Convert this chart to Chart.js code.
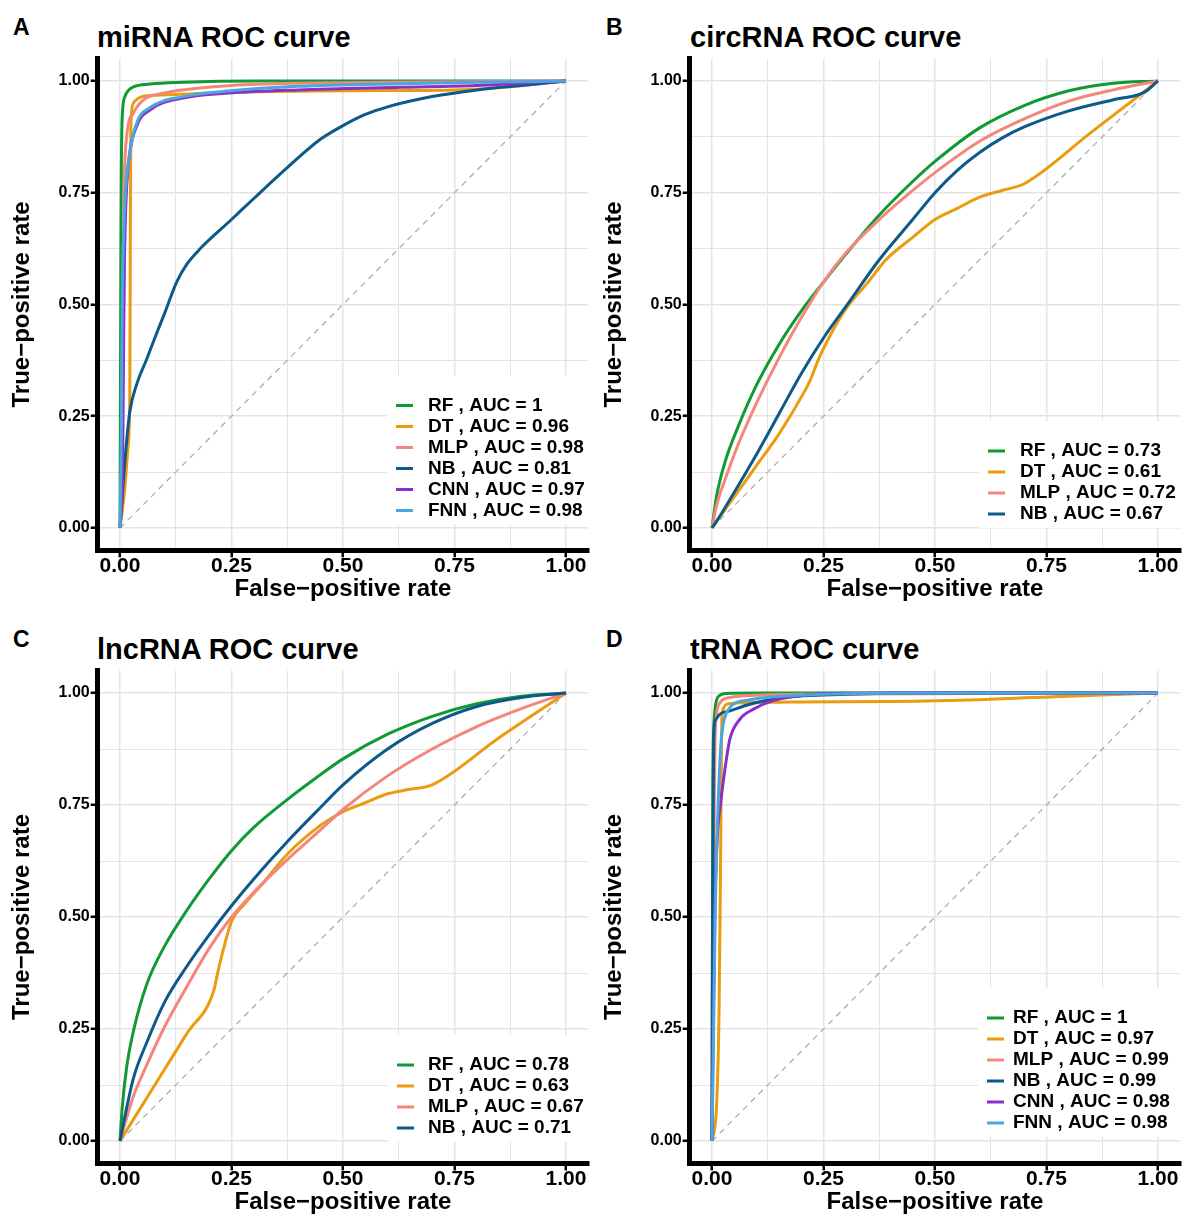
<!DOCTYPE html>
<html>
<head>
<meta charset="utf-8">
<script src="https://cdn.jsdelivr.net/npm/chart.js@4.4.1/dist/chart.umd.min.js"></script>
<style>
  body { margin: 0; width: 1184px; height: 1215px; background: #fff; position: relative; overflow: hidden;
         font-family: "Liberation Sans", Arial, sans-serif; }
  canvas { position: absolute; }
  .letter { position: absolute; font-weight: bold; font-size: 23px; line-height: 1; }
  .title { position: absolute; font-weight: bold; font-size: 29px; line-height: 1; white-space: nowrap; }
</style>
</head>
<body>
<div class="letter" style="left:13px;top:16px">A</div>
<div class="title" style="left:97px;top:23px">miRNA ROC curve</div>
<div class="letter" style="left:606px;top:16px">B</div>
<div class="title" style="left:690px;top:23px">circRNA ROC curve</div>
<div class="letter" style="left:13px;top:628px">C</div>
<div class="title" style="left:97px;top:635px">lncRNA ROC curve</div>
<div class="letter" style="left:606px;top:628px">D</div>
<div class="title" style="left:690px;top:635px">tRNA ROC curve</div>
<script>
//models, ticks
const models = ["RF", "DT", "MLP", "NB", "CNN", "FNN"];
const tickValues = [0, 0.25, 0.5, 0.75, 1];
const gridValues = [0, 0.125, 0.25, 0.375, 0.5, 0.625, 0.75, 0.875, 1];

//miRNA  [fpr, tpr]
const aucMiRNA = [1, 0.96, 0.98, 0.81, 0.97, 0.98];
const miRNA_RF = [[0,0],[0.001,0.3],[0.002,0.6],[0.003,0.8],[0.005,0.92],[0.011,0.965],[0.02,0.98],[0.03,0.987],[0.067,0.993],[0.142,0.997],[0.3,1],[1,1]];
const miRNA_DT = [[0,0],[0.01,0.08],[0.018,0.18],[0.022,0.3],[0.023,0.6],[0.024,0.85],[0.026,0.93],[0.03,0.95],[0.037,0.958],[0.052,0.966],[0.105,0.969],[0.25,0.975],[0.5,0.978],[0.75,0.98],[0.85,0.985],[1,1]];
const miRNA_MLP = [[0,0],[0.004,0.2],[0.006,0.5],[0.009,0.75],[0.015,0.876],[0.03,0.928],[0.052,0.957],[0.105,0.974],[0.18,0.984],[0.25,0.99],[0.4,0.995],[0.6,0.997],[1,1]];
const miRNA_NB = [[0,0],[0.005,0.07],[0.011,0.15],[0.022,0.26],[0.037,0.32],[0.06,0.378],[0.08,0.43],[0.1,0.48],[0.127,0.55],[0.15,0.59],[0.18,0.625],[0.25,0.69],[0.3,0.737],[0.375,0.806],[0.45,0.87],[0.5,0.9],[0.55,0.925],[0.6,0.942],[0.7,0.965],[0.8,0.98],[0.9,0.99],[1,1]];
const miRNA_CNN = [[0,0],[0.006,0.15],[0.008,0.4],[0.01,0.6],[0.013,0.72],[0.019,0.816],[0.037,0.898],[0.067,0.935],[0.142,0.962],[0.247,0.973],[0.4,0.98],[0.63,0.986],[0.8,0.99],[1,1]];
const miRNA_FNN = [[0,0],[0.003,0.2],[0.005,0.5],[0.008,0.65],[0.013,0.76],[0.022,0.838],[0.037,0.905],[0.067,0.94],[0.142,0.965],[0.247,0.978],[0.4,0.988],[0.63,0.994],[0.8,0.997],[1,1]];

//circRNA
const aucCircRNA = [0.73, 0.61, 0.72, 0.67];
const circ_RF = [[0,0],[0.01,0.07],[0.03,0.15],[0.06,0.23],[0.1,0.32],[0.15,0.41],[0.2,0.485],[0.25,0.55],[0.3,0.612],[0.375,0.7],[0.45,0.775],[0.5,0.82],[0.6,0.895],[0.7,0.945],[0.8,0.978],[0.9,0.995],[1,1]];
const circ_DT = [[0,0],[0.05,0.07],[0.1,0.14],[0.15,0.21],[0.21,0.31],[0.22,0.33],[0.24,0.38],[0.27,0.44],[0.3,0.49],[0.35,0.55],[0.39,0.6],[0.45,0.65],[0.5,0.69],[0.55,0.715],[0.6,0.74],[0.65,0.755],[0.7,0.77],[0.85,0.885],[1,1]];
const circ_MLP = [[0,0],[0.01,0.05],[0.03,0.11],[0.06,0.19],[0.1,0.28],[0.15,0.38],[0.2,0.47],[0.25,0.55],[0.3,0.615],[0.375,0.69],[0.45,0.755],[0.5,0.795],[0.6,0.865],[0.7,0.915],[0.8,0.955],[0.9,0.98],[1,1]];
const circ_NB = [[0,0],[0.02,0.03],[0.05,0.08],[0.1,0.165],[0.15,0.255],[0.2,0.345],[0.25,0.425],[0.3,0.495],[0.375,0.6],[0.45,0.69],[0.5,0.75],[0.55,0.8],[0.6,0.84],[0.65,0.872],[0.7,0.897],[0.8,0.933],[0.9,0.958],[0.97,0.975],[1,1]];

//lncRNA
const aucLncRNA = [0.78, 0.63, 0.67, 0.71];
const lnc_RF = [[0,0],[0.005,0.075],[0.015,0.165],[0.03,0.245],[0.06,0.35],[0.1,0.435],[0.15,0.515],[0.2,0.585],[0.25,0.648],[0.3,0.7],[0.375,0.762],[0.45,0.818],[0.5,0.853],[0.6,0.908],[0.7,0.948],[0.8,0.976],[0.9,0.993],[1,1]];
const lnc_DT = [[0,0],[0.05,0.08],[0.1,0.16],[0.15,0.24],[0.21,0.335],[0.22,0.38],[0.235,0.44],[0.25,0.49],[0.28,0.53],[0.32,0.575],[0.375,0.64],[0.45,0.705],[0.5,0.735],[0.55,0.755],[0.6,0.775],[0.65,0.785],[0.7,0.795],[0.85,0.9],[1,1]];
const lnc_MLP = [[0,0],[0.01,0.035],[0.03,0.1],[0.06,0.17],[0.1,0.255],[0.15,0.345],[0.2,0.43],[0.25,0.5],[0.3,0.555],[0.375,0.628],[0.45,0.695],[0.5,0.74],[0.6,0.815],[0.7,0.875],[0.8,0.925],[0.9,0.965],[1,1]];
const lnc_NB = [[0,0],[0.01,0.05],[0.03,0.14],[0.06,0.22],[0.1,0.31],[0.15,0.39],[0.2,0.46],[0.25,0.525],[0.3,0.585],[0.375,0.668],[0.45,0.745],[0.5,0.795],[0.6,0.875],[0.7,0.932],[0.8,0.97],[0.9,0.99],[1,1]];

//tRNA
const aucTRNA = [1, 0.97, 0.99, 0.99, 0.98, 0.98];
const tRNA_RF = [[0,0],[0.001,0.5],[0.002,0.8],[0.004,0.92],[0.007,0.965],[0.0105,0.985],[0.018,0.995],[0.03,0.999],[0.1,1],[1,1]];
const tRNA_DT = [[0,0],[0.0105,0.084],[0.016,0.3],[0.019,0.6],[0.021,0.85],[0.022,0.94],[0.025,0.964],[0.033,0.975],[0.06,0.978],[0.2,0.98],[0.4,0.981],[0.6,0.985],[0.8,0.993],[1,1]];
const tRNA_MLP = [[0,0],[0.003,0.4],[0.005,0.75],[0.007,0.9],[0.01,0.95],[0.018,0.978],[0.04,0.99],[0.1,0.995],[0.3,0.998],[1,1]];
const tRNA_NB = [[0,0],[0.001,0.4],[0.003,0.8],[0.0045,0.92],[0.008,0.94],[0.018,0.953],[0.04,0.96],[0.085,0.975],[0.16,0.99],[0.3,0.997],[0.5,1],[1,1]];
const tRNA_CNN = [[0,0],[0.002,0.2],[0.0067,0.53],[0.012,0.68],[0.02,0.76],[0.025,0.8],[0.029,0.83],[0.04,0.897],[0.063,0.942],[0.093,0.964],[0.137,0.983],[0.197,0.994],[0.25,0.999],[0.4,1],[1,1]];
const tRNA_FNN = [[0,0],[0.003,0.2],[0.007,0.5],[0.012,0.7],[0.0195,0.88],[0.025,0.93],[0.033,0.957],[0.048,0.975],[0.08,0.984],[0.123,0.99],[0.25,0.997],[0.5,1],[1,1]];

const colors = { RF: "#0f9a34", DT: "#e99c0d", MLP: "#f4867b", NB: "#0d598a", CNN: "#8b2fc9", FNN: "#4ba6de" };
const FONT = '"Liberation Sans", Arial, sans-serif';
const AXIS_TITLE_SIZE = 24;

//legend drawn inside the plot, bottom right, on white
const insideLegend = {
  id: "insideLegend",
  afterDatasetsDraw(chart, args, opts) {
    const ctx = chart.ctx;
    const items = chart.data.datasets.filter((d) => d.label);
    ctx.save();
    ctx.font = "bold 19px " + FONT;
    let maxW = Math.max(...items.map((d) => ctx.measureText(d.label).width));
    let left = opts.swatchX - 9;
    let top = opts.rowY - 30;
    let bottom = opts.rowY + (items.length - 1) * 21 + 14;
    let right = Math.max(opts.textX + maxW + 8, chart.chartArea.right);
    ctx.fillStyle = "#fff";
    ctx.fillRect(left, top, right - left, bottom - top);
    items.forEach((d, i) => {
      let y = opts.rowY + i * 21;
      ctx.strokeStyle = d.borderColor;
      ctx.lineWidth = 3;
      ctx.beginPath();
      ctx.moveTo(opts.swatchX, y);
      ctx.lineTo(opts.swatchX + 17, y);
      ctx.stroke();
      ctx.fillStyle = "#000";
      ctx.textBaseline = "middle";
      ctx.fillText(d.label, opts.textX, y);
    });
    ctx.restore();
  },
};

function makePanel(p) {
  let canvas = document.createElement("canvas");
  canvas.width = p.box[2];
  canvas.height = p.box[3];
  canvas.style.left = p.box[0] + "px";
  canvas.style.top = p.box[1] + "px";
  document.body.appendChild(canvas);

  let half = (AXIS_TITLE_SIZE * 1.2) / 2;
  let canvasBottom = p.box[1] + p.box[3];
  let yAxisW = p.area.l - p.box[0];
  let xAxisH = canvasBottom - p.area.b;
  let xTitlePad = canvasBottom - (p.area.b + 39) - half;

  let datasets = p.curves.map((pts, i) => ({
    label: `${models[i]} , AUC = ${p.auc[i]}`,
    data: pts.map((d) => ({ x: d[0], y: d[1] })),
    borderColor: colors[models[i]],
    borderWidth: 3,
    pointRadius: 0,
    fill: false,
    cubicInterpolationMode: "monotone",
    order: 10 - i,
  }));
  datasets.push({
    label: "",
    data: [{ x: 0, y: 0 }, { x: 1, y: 1 }],
    borderColor: "#a9a9a9",
    borderWidth: 1.2,
    borderDash: [6, 5],
    pointRadius: 0,
    order: 20,
  });

  let isMajor = (ctx) => ctx.tick && tickValues.includes(ctx.tick.value);
  let grid = {
    color: "#e4e4e4",
    lineWidth: (ctx) => (isMajor(ctx) ? 1.5 : 1),
    tickLength: 7,
    tickWidth: 2.5,
    tickColor: (ctx) => (isMajor(ctx) ? "#000" : "rgba(0,0,0,0)"),
  };
  let setTicks = (axis) => {
    axis.ticks = gridValues.map((v) => ({ value: v }));
  };
  let label = (v) => (tickValues.includes(v) ? v.toFixed(2) : "");

  new Chart(canvas, {
    type: "line",
    data: { datasets: datasets },
    plugins: [insideLegend],
    options: {
      responsive: false,
      animation: false,
      devicePixelRatio: 1,
      layout: {
        padding: { left: 0, top: p.area.t - p.box[1], right: p.box[0] + p.box[2] - p.area.r, bottom: 0 },
      },
      plugins: {
        legend: { display: false },
        tooltip: { enabled: false },
        insideLegend: {
          swatchX: p.legend.swatchX - p.box[0],
          textX: p.legend.textX - p.box[0],
          rowY: p.legend.rowY - p.box[1],
        },
      },
      scales: {
        x: {
          type: "linear",
          min: -0.05,
          max: 1.05,
          afterBuildTicks: setTicks,
          afterFit: (s) => { s.height = xAxisH; },
          ticks: {
            autoSkip: false, maxRotation: 0, padding: -2, color: "#000",
            font: { family: FONT, size: 21, weight: "bold", lineHeight: 1 },
            callback: label,
          },
          grid: grid,
          border: { color: "#000", width: 5 },
          title: {
            display: true, text: "False\u2212positive rate", color: "#000",
            font: { family: FONT, size: AXIS_TITLE_SIZE, weight: "bold", lineHeight: 1.2 },
            padding: { top: 0, bottom: xTitlePad },
          },
        },
        y: {
          type: "linear",
          min: -0.05,
          max: 1.05,
          afterBuildTicks: setTicks,
          afterFit: (s) => { s.width = yAxisW; },
          ticks: {
            autoSkip: false, padding: 1, color: "#000",
            font: { family: FONT, size: 16, weight: "bold" },
            callback: label,
          },
          grid: grid,
          border: { color: "#000", width: 5 },
          title: {
            display: true, text: "True\u2212positive rate", color: "#000",
            font: { family: FONT, size: AXIS_TITLE_SIZE, weight: "bold", lineHeight: 1.2 },
            padding: { top: 22 - half, bottom: 0 },
          },
        },
      },
    },
  });
}

makePanel({
  box: [0, 0, 596, 610],
  area: { l: 97.7, r: 588.3, t: 58.6, b: 550.3 },
  curves: [miRNA_RF, miRNA_DT, miRNA_MLP, miRNA_NB, miRNA_CNN, miRNA_FNN],
  auc: aucMiRNA,
  legend: { swatchX: 396, textX: 428, rowY: 405.5 },
});
makePanel({
  box: [592, 0, 592, 610],
  area: { l: 689.7, r: 1180.3, t: 58.6, b: 550.3 },
  curves: [circ_RF, circ_DT, circ_MLP, circ_NB],
  auc: aucCircRNA,
  legend: { swatchX: 988, textX: 1020, rowY: 451 },
});
makePanel({
  box: [0, 612, 596, 610],
  area: { l: 97.7, r: 588.3, t: 670.6, b: 1163.4 },
  curves: [lnc_RF, lnc_DT, lnc_MLP, lnc_NB],
  auc: aucLncRNA,
  legend: { swatchX: 397, textX: 428, rowY: 1065 },
});
makePanel({
  box: [592, 612, 592, 610],
  area: { l: 689.7, r: 1180.3, t: 670.6, b: 1163.4 },
  curves: [tRNA_RF, tRNA_DT, tRNA_MLP, tRNA_NB, tRNA_CNN, tRNA_FNN],
  auc: aucTRNA,
  legend: { swatchX: 987, textX: 1013, rowY: 1018 },
});
</script>
</body>
</html>
